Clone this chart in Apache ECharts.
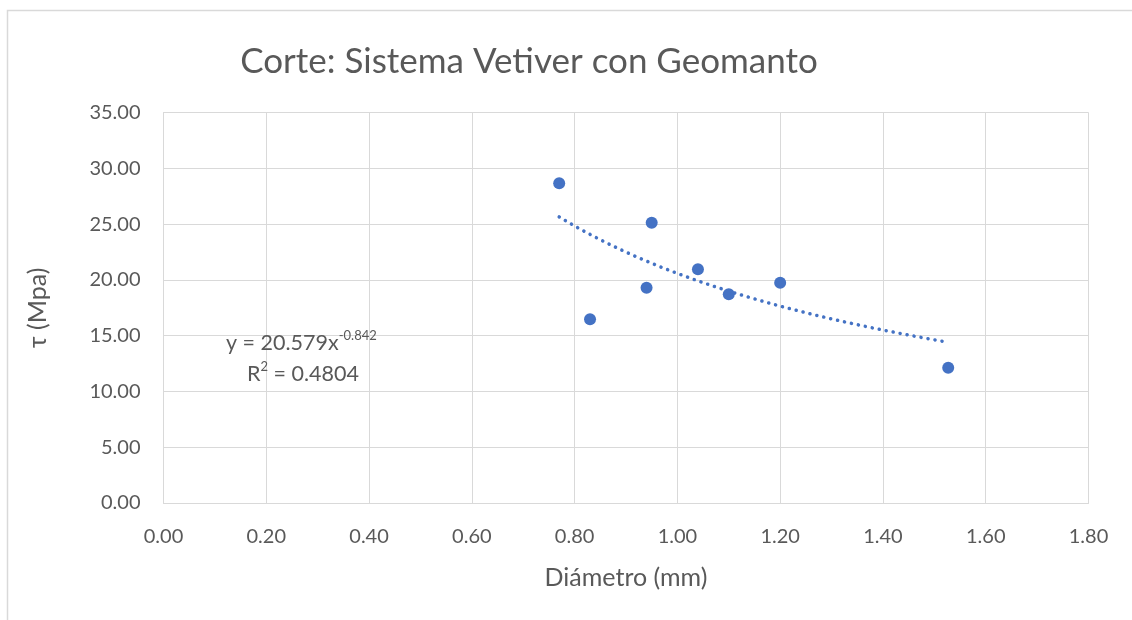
<!DOCTYPE html>
<html>
<head>
<meta charset="utf-8">
<script src="https://cdn.jsdelivr.net/npm/echarts@6/dist/echarts.min.js"></script>
<style>
  html, body { margin: 0; padding: 0; background: #ffffff; }
  #chart { width: 1132px; height: 620px; }
</style>
</head>
<body>
<div id="chart"></div>
<script>
// Measured root diameter (mm) and shear strength τ (MPa)
const diametro = [0.77, 0.83, 0.94, 0.95, 1.04, 1.10, 1.20, 1.527];
const tau      = [28.65, 16.46, 19.30, 25.12, 20.95, 18.71, 19.75, 12.13];

// Power-law trendline y = a·x^b, coefficients as printed on the chart
const trendA = 20.579;
const trendB = -0.842;
const trendR2 = 0.4804;

const xTicks = { min: 0, max: 1.8, interval: 0.2 };
const yTicks = { min: 0, max: 35, interval: 5 };

const FONT = 'Lato';
const BLUE = '#4472C4';
const TEXT = '#595959';
const GRID = '#d9d9d9';

// Trendline points spanning the measured diameters
const xMin = Math.min(...diametro), xMax = Math.max(...diametro);
const steps = 60;
const trend = [];
for (let i = 0; i <= steps; i++) {
  const x = xMin + (xMax - xMin) * i / steps;
  trend.push([x, trendA * Math.pow(x, trendB)]);
}

const chart = echarts.init(document.getElementById('chart'), null, { renderer: 'canvas' });
chart.setOption({
  backgroundColor: '#ffffff',
  animation: false,
  title: {
    text: 'Corte: Sistema Vetiver con Geomanto',
    left: 524, top: 39, textAlign: 'center',
    textStyle: { fontFamily: FONT, fontSize: 35, fontWeight: 'normal', color: TEXT }
  },
  grid: { left: 163.5, top: 112.5, width: 925, height: 390.5, containLabel: false },
  xAxis: {
    type: 'value', min: xTicks.min, max: xTicks.max, interval: xTicks.interval,
    name: 'Diámetro (mm)', nameLocation: 'middle', nameGap: 62,
    nameTextStyle: { fontFamily: FONT, fontSize: 25, color: TEXT },
    axisLine: { show: true, lineStyle: { color: GRID, width: 1 } },
    axisTick: { show: false },
    axisLabel: { fontFamily: FONT, fontSize: 20, color: TEXT, margin: 24,
      formatter: v => v.toFixed(2) },
    splitLine: { show: true, lineStyle: { color: GRID, width: 1 } }
  },
  yAxis: {
    type: 'value', min: yTicks.min, max: yTicks.max, interval: yTicks.interval,
    name: 'τ (Mpa)', nameLocation: 'middle', nameGap: 113, nameRotate: 90,
    nameTextStyle: { fontFamily: FONT, fontSize: 25, color: TEXT },
    axisLine: { show: true, lineStyle: { color: GRID, width: 1 } },
    axisTick: { show: false },
    axisLabel: { fontFamily: FONT, fontSize: 20, color: TEXT, margin: 23,
      formatter: v => v.toFixed(2) },
    splitLine: { show: true, lineStyle: { color: GRID, width: 1 } }
  },
  series: [
    {
      name: 'Tendencia', type: 'line', data: trend, showSymbol: false, smooth: false,
      lineStyle: { color: BLUE, width: 3.5, type: [0.1, 7], cap: 'round' },
      z: 2
    },
    {
      name: 'τ', type: 'scatter', data: diametro.map((d, i) => [d, tau[i]]),
      symbol: 'circle', symbolSize: 12,
      itemStyle: { color: BLUE, opacity: 1 },
      z: 3
    }
  ],
  graphic: [
    {
      type: 'rect', silent: true, z: -1,
      shape: { x: 7.5, y: 10.5, width: 1200, height: 700 },
      style: { fill: 'none', stroke: '#d9d9d9', lineWidth: 1.5 }
    },
    {
      type: 'text', x: 226, y: 343, z: 10,
      style: {
        text: '{b|y = ' + trendA + 'x}{s|' + trendB + '}',
        verticalAlign: 'middle', align: 'left',
        rich: {
          b: { fontFamily: FONT, fontSize: 21.5, fill: TEXT },
          s: { fontFamily: FONT, fontSize: 13, fill: TEXT, padding: [0, 0, 14, 0] }
        }
      }
    },
    {
      type: 'text', x: 247, y: 374, z: 10,
      style: {
        text: '{b|R}{s|2}{b| = ' + trendR2 + '}',
        verticalAlign: 'middle', align: 'left',
        rich: {
          b: { fontFamily: FONT, fontSize: 21.5, fill: TEXT },
          s: { fontFamily: FONT, fontSize: 13, fill: TEXT, padding: [0, 0, 14, 0] }
        }
      }
    }
  ]
});
</script>
</body>
</html>
